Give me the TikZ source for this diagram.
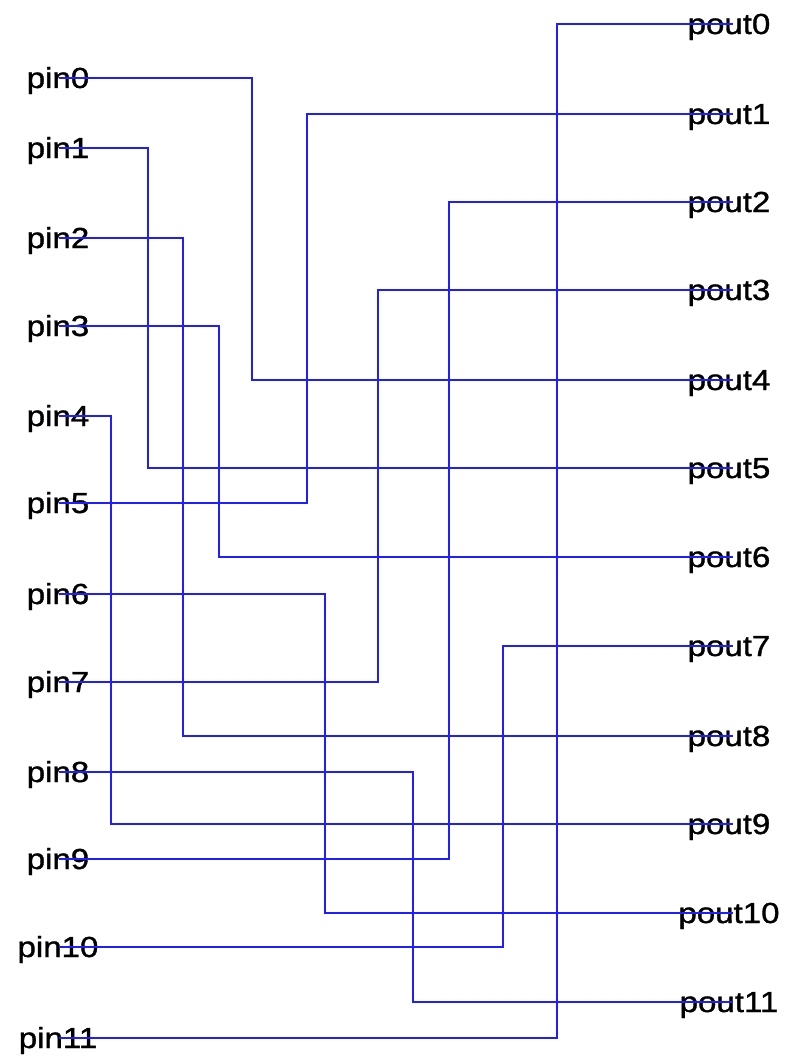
\documentclass[tikz,border=0pt]{standalone}
\usepackage{fontspec}
\setmainfont[FakeStretch=1.14,FakeBold=1.2]{Liberation Sans}
\begin{document}
\begin{tikzpicture}[x=1pt,y=-1pt,
  wire/.style={draw={rgb,255:red,30;green,30;blue,255},line width=1.7pt},
  pinlabel/.style={anchor=base,inner sep=0pt,font=\fontsize{29}{29}\selectfont}]
\useasboundingbox (0,0) rectangle (788,1062);
% input pins (left) and output pins (right)
\foreach \i/\y in {0/78,1/148,2/238,3/326,4/416,5/503,6/594,7/682,8/772,9/859,10/947,11/1038}{
  \coordinate (pa\i) at (59,\y);
  \node[pinlabel] (pin\i) at (58,\y+10) {pin\i};
}
\foreach \i/\y in {0/24,1/114,2/202,3/290,4/380,5/468,6/557,7/646,8/736,9/824,10/913,11/1002}{
  \coordinate (pb\i) at (733,\y);
  \node[pinlabel] (pout\i) at (729,\y+10) {pout\i};
}
% routing: input -> vertical track -> output
\foreach \a/\xv/\b in {0/252/4,1/148/5,2/183/8,3/219/6,4/111/9,5/307/1,6/325/10,7/378/3,8/413/11,9/449/2,10/503/7,11/557/0}{
  \draw[wire] (pa\a) -- ++(\xv-59,0) |- (pb\b);
}
\end{tikzpicture}
\end{document}
